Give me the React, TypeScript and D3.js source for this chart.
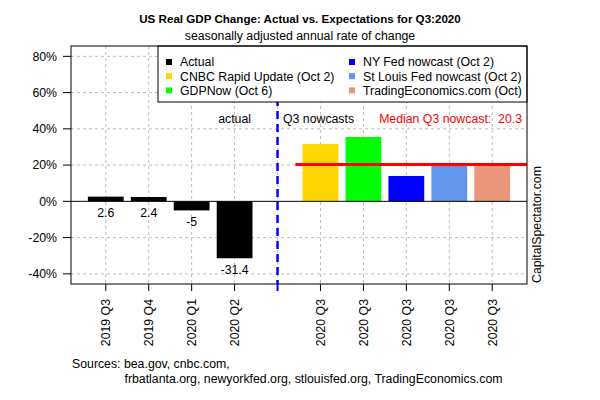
import React from "react";
import * as d3 from "d3";

const categories = ["2019 Q3", "2019 Q4", "2020 Q1", "2020 Q2", "", "2020 Q3", "2020 Q3", "2020 Q3", "2020 Q3", "2020 Q3"];
const values: (number | null)[] = [2.6, 2.4, -5, -31.4, null, 31.6, 35.5, 14.0, 20.3, 20.2];
const barColors = ["#000000", "#000000", "#000000", "#000000", "none", "#FFD700", "#00FF00", "#0000FF", "#6495ED", "#E9967A"];
const barLabels = ["2.6", "2.4", "-5", "-31.4", "", "", "", "", "", ""];
const yTicks = [-40, -20, 0, 20, 40, 60, 80];
const legendNames = ["Actual", "CNBC Rapid Update (Oct 2)", "GDPNow (Oct 6)", "NY Fed nowcast (Oct 2)", "St Louis Fed nowcast (Oct 2)", "TradingEconomics.com (Oct)"];
const legendColors = ["#000000", "#FFD700", "#00FF00", "#0000FF", "#6495ED", "#E9967A"];
const medianValue = 20.3;

const FONT = "'Liberation Sans', Arial, sans-serif";
const FS = 12.3;

export default function App() {
  const W = 600, H = 400;
  const left = 71, right = 527, top = 46, bottom = 284;
  const x = d3.scaleLinear().domain([-0.272, 12.472]).range([left, right]);
  const y = d3.scaleLinear().domain([-45.6, 85.7]).range([bottom, top]);
  const center = (i: number) => 0.7 + 1.2 * i;
  const dividerX = x(center(4));

  return (
    <svg width={W} height={H} style={{ position: "absolute", left: 0, top: 0, fontFamily: FONT }}>
      <rect x={0} y={0} width={W} height={H} fill="#fff" />
      <text x={300} y={23} textAnchor="middle" fontSize={11.6} fontWeight="bold">US Real GDP Change: Actual vs. Expectations for Q3:2020</text>
      <text x={300} y={40} textAnchor="middle" fontSize={FS}>seasonally adjusted annual rate of change</text>

      {/* grid */}
      {yTicks.filter(t => t !== 0).map(t => (
        <line key={"hg" + t} x1={left} x2={right} y1={y(t)} y2={y(t)} stroke="#BEBEBE" strokeDasharray="3,3" />
      ))}
      {categories.map((c, i) => (
        <line key={"vg" + i} x1={x(center(i))} x2={x(center(i))} y1={top} y2={bottom} stroke="#BEBEBE" strokeDasharray="3,3" />
      ))}

      {/* bars */}
      {values.map((v, i) => v === null ? null : (
        <rect key={"b" + i} x={x(0.2 + 1.2 * i)} width={x(1) - x(0)} y={y(Math.max(v, 0))} height={Math.abs(y(v) - y(0))} fill={barColors[i]} />
      ))}
      <line x1={left} x2={right} y1={y(0)} y2={y(0)} stroke="#000" strokeWidth={1} />
      {values.map((v, i) => barLabels[i] ? (
        <text key={"bl" + i} x={x(center(i))} y={y(Math.min(v as number, 0)) + 16} textAnchor="middle" fontSize={FS}>{barLabels[i]}</text>
      ) : null)}

      {/* divider */}
      <line x1={dividerX} x2={dividerX} y1={top} y2={bottom} stroke="#0000FF" strokeWidth={2.5} strokeDasharray="8,5" />
      {/* median */}
      <line x1={x(6.0)} x2={right} y1={y(medianValue)} y2={y(medianValue)} stroke="#FF0000" strokeWidth={3} />

      <text x={x(center(3))} y={123} textAnchor="middle" fontSize={FS}>actual</text>
      <text x={283} y={123} fontSize={FS}>Q3 nowcasts</text>
      <text x={522} y={123} textAnchor="end" fontSize={FS} fill="#FF0000">{"Median Q3 nowcast:\u00A0 " + medianValue}</text>

      {/* legend */}
      <rect x={158} y={top} width={right - 158} height={56} fill="#fff" stroke="#000" />
      {legendNames.map((n, i) => {
        const col = Math.floor(i / 3), row = i % 3;
        const lx = col === 0 ? 166 : 349;
        const ly = 62 + row * 14.2;
        return (
          <g key={"lg" + i}>
            <rect x={lx} y={ly - 3} width={6} height={6} fill={legendColors[i]} />
            <text x={lx + 14} y={ly + 4.3} fontSize={FS}>{n}</text>
          </g>
        );
      })}

      {/* frame */}
      <rect x={left} y={top} width={right - left} height={bottom - top} fill="none" stroke="#000" />

      {/* y axis */}
      {yTicks.map(t => (
        <g key={"yt" + t}>
          <line x1={left - 8} x2={left} y1={y(t)} y2={y(t)} stroke="#000" />
          <text x={57} y={y(t) + 4.3} textAnchor="end" fontSize={FS}>{t}%</text>
        </g>
      ))}

      {/* x axis */}
      {categories.map((c, i) => (
        <g key={"xt" + i}>
          <line x1={x(center(i))} x2={x(center(i))} y1={bottom} y2={bottom + 7} stroke={i === 4 ? "#0000FF" : "#000"} strokeWidth={i === 4 ? 2 : 1} />
          {c ? (
            <text transform={`translate(${x(center(i)) + 4.3},${299}) rotate(-90)`} textAnchor="end" fontSize={FS}>{c}</text>
          ) : null}
        </g>
      ))}

      <text transform={`translate(${540.5},${283}) rotate(-90)`} fontSize={FS}>CapitalSpectator.com</text>

      <text x={72} y={368} fontSize={FS}>Sources: bea.gov, cnbc.com,</text>
      <text x={124.5} y={382.5} fontSize={FS}>frbatlanta.org, newyorkfed.org, stlouisfed.org, TradingEconomics.com</text>
    </svg>
  );
}
